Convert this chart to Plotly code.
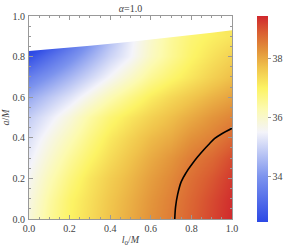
import plotly.graph_objects as go

# Grid axes
l0_vals = [0.0, 0.1, 0.2, 0.3, 0.4, 0.5, 0.6, 0.7, 0.8, 0.9, 1.0]
a_vals = [0.0, 0.1, 0.2, 0.3, 0.4, 0.5, 0.6, 0.7, 0.8, 0.9]

# Field values (rows: a, columns: l0)
z_rows = [
    [35.85, 36.5, 37.0, 37.35, 37.7, 38.0, 38.3, 38.55, 38.85, 39.15, 39.45],
    [35.75, 36.4, 36.95, 37.3, 37.65, 37.95, 38.25, 38.5, 38.8, 39.1, 39.4],
    [35.6, 36.2, 36.75, 37.2, 37.55, 37.85, 38.15, 38.4, 38.7, 38.97, 39.28],
    [35.4, 35.95, 36.5, 36.95, 37.35, 37.7, 38.0, 38.25, 38.55, 38.78, 39.1],
    [35.2, 35.7, 36.2, 36.7, 37.15, 37.5, 37.8, 38.0, 38.3, 38.5, 38.78],
    [34.9, 35.35, 35.85, 36.4, 36.85, 37.2, 37.5, 37.75, 38.0, 38.25, 38.45],
    [34.35, 34.8, 35.25, 35.75, 36.25, 36.7, 37.1, 37.4, 37.65, 37.9, 38.1],
    [33.6, 34.05, 34.55, 35.05, 35.55, 36.05, 36.55, 36.9, 37.2, 37.5, 37.75],
    [32.6, 33.2, 33.8, 34.4, 35.0, 35.5, 36.1, 36.55, 36.95, 37.25, 37.5],
    [31.4, 32.2, 33.0, 33.8, 34.6, 35.4, 36.0, 36.5, 36.85, 37.05, 37.2],
]

# Upper boundary of the allowed region
bound_l0 = [0.0, 0.1, 0.2, 0.3, 0.4, 0.5, 0.6, 0.7, 0.8, 0.9, 1.0]
bound_a = [0.828, 0.836, 0.845, 0.854, 0.863, 0.873, 0.884, 0.895, 0.906, 0.918, 0.93]

# Highlighted contour line
cont_l0 = [0.718, 0.722, 0.732, 0.75, 0.775, 0.8, 0.83, 0.86, 0.89, 0.915, 0.95, 1.0]
cont_a = [0.0, 0.06, 0.12, 0.184, 0.23, 0.266, 0.305, 0.34, 0.372, 0.397, 0.42, 0.447]

zmin, zmax = 32.45, 39.45
cb_ticks = [34, 36, 38]

colorscale = [
    [0.0, "rgb(44,73,229)"],
    [0.221, "rgb(125,148,238)"],
    [0.436, "rgb(244,244,250)"],
    [0.55, "rgb(252,250,175)"],
    [0.65, "rgb(252,243,100)"],
    [0.75, "rgb(240,195,75)"],
    [0.836, "rgb(226,145,58)"],
    [0.92, "rgb(218,95,50)"],
    [1.0, "rgb(208,40,45)"],
]

serif = "Liberation Serif, Times New Roman, serif"

fig = go.Figure()
fig.add_trace(go.Heatmap(
    x=l0_vals, y=a_vals, z=z_rows, zsmooth="best",
    colorscale=colorscale, zmin=zmin, zmax=zmax,
    colorbar=dict(
        x=1.123, xanchor="left", xpad=0,
        y=0.493, yanchor="middle", ypad=0,
        lenmode="pixels", len=206, thicknessmode="pixels", thickness=11,
        outlinewidth=0,
        tickvals=cb_ticks, ticks="outside", ticklen=3, tickcolor="#999",
        tickfont=dict(family=serif, size=10, color="#444"),
    ),
    hoverinfo="skip",
))

# White mask above the boundary
fig.add_trace(go.Scatter(
    x=bound_l0 + [1.0, 0.0], y=bound_a + [1.0, 1.0],
    fill="toself", fillcolor="white", mode="none", showlegend=False,
    hoverinfo="skip",
))

fig.add_trace(go.Scatter(
    x=cont_l0, y=cont_a, mode="lines",
    line=dict(color="black", width=1.6, shape="spline"),
    showlegend=False, hoverinfo="skip",
))

axis_common = dict(
    range=[0, 1], tickvals=[0, 0.2, 0.4, 0.6, 0.8, 1.0], tickformat=".1f",
    ticks="inside", ticklen=4, tickcolor="#999", tickwidth=1,
    minor=dict(ticks="inside", ticklen=2, tickcolor="#999", dtick=0.05, showgrid=False),
    showline=True, linecolor="#999", linewidth=1, mirror="ticks",
    showgrid=False, zeroline=False, automargin=False,
    tickfont=dict(family=serif, size=10, color="#444"),
)

fig.update_layout(
    width=284, height=247,
    margin=dict(l=29, r=52, t=16, b=28, autoexpand=False),
    paper_bgcolor="white", plot_bgcolor="white",
    showlegend=False,
    title=dict(text="<i>α</i>=1.0", x=(29 + 101.5) / 284, xanchor="center",
               y=1 - 8 / 247, yanchor="middle",
               font=dict(family=serif, size=10, color="#444")),
    xaxis=dict(axis_common, ticklabelstandoff=0,
               title=dict(text="<i>l</i><sub>0</sub>/<i>M</i>", standoff=2,
                          font=dict(family=serif, size=10, color="#444"))),
    yaxis=dict(axis_common, ticklabelstandoff=1,
               title=dict(text="<i>a</i>/<i>M</i>", standoff=2,
                          font=dict(family=serif, size=10, color="#444"))),
)

fig.write_html("out.html", config={"displayModeBar": False},
               post_script="document.body.style.margin='0';document.body.style.padding='0';")
